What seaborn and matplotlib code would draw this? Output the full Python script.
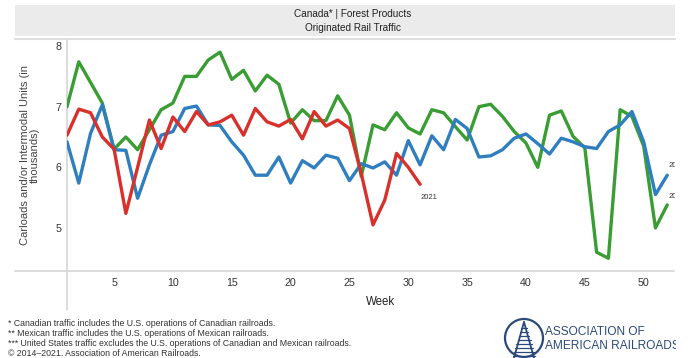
import pandas as pd
import seaborn as sns
import matplotlib.pyplot as plt
from matplotlib.patches import Rectangle, Circle

# ============================================================
# DADOS - carloads semanais (milhares), Canada | Forest Products
# ============================================================

semanas = list(range(1, 53))

carloads_2019 = [7.00, 7.74, 7.40, 7.06, 6.30, 6.50, 6.29, 6.62, 6.95, 7.06,
                 7.50, 7.50, 7.77, 7.90, 7.45, 7.60, 7.26, 7.52, 7.37, 6.73,
                 6.95, 6.77, 6.77, 7.18, 6.86, 5.85, 6.70, 6.62, 6.90, 6.65,
                 6.55, 6.95, 6.90, 6.67, 6.45, 7.00, 7.04, 6.84, 6.59, 6.40,
                 6.00, 6.86, 6.93, 6.51, 6.32, 4.60, 4.50, 6.95, 6.84, 6.35,
                 5.00, 5.38]

carloads_2020 = [6.42, 5.74, 6.56, 7.03, 6.29, 6.28, 5.49, 6.04, 6.53, 6.59,
                 6.97, 7.01, 6.70, 6.69, 6.42, 6.20, 5.87, 5.87, 6.17, 5.74,
                 6.11, 5.99, 6.20, 6.15, 5.78, 6.06, 5.99, 6.09, 5.87, 6.44,
                 6.04, 6.52, 6.29, 6.79, 6.64, 6.17, 6.19, 6.29, 6.48, 6.55,
                 6.39, 6.22, 6.48, 6.42, 6.34, 6.31, 6.59, 6.70, 6.92, 6.42,
                 5.55, 5.87]

semanas_2021 = list(range(1, 32))
carloads_2021 = [6.53, 6.96, 6.90, 6.50, 6.30, 5.24, 6.00, 6.78, 6.31, 6.83,
                 6.59, 6.92, 6.70, 6.75, 6.86, 6.53, 6.97, 6.75, 6.68, 6.79,
                 6.47, 6.92, 6.68, 6.78, 6.64, 5.90, 5.05, 5.46, 6.23, 6.00,
                 5.72]

anos = ['2019', '2020', '2021']
cores = {'2019': '#3a9d34', '2020': '#2f7fc0', '2021': '#d8302b'}

ticks_x = [5, 10, 15, 20, 25, 30, 35, 40, 45, 50]
ticks_y = [5, 6, 7, 8]

notas = [
    "* Canadian traffic includes the U.S. operations of Canadian railroads.",
    "** Mexican traffic includes the U.S. operations of Mexican railroads.",
    "*** United States traffic excludes the U.S. operations of Canadian and Mexican railroads.",
    "\u00a9 2014\u20132021. Association of American Railroads.",
]

df = pd.concat([
    pd.DataFrame({'semana': semanas, 'carloads': carloads_2019, 'ano': '2019'}),
    pd.DataFrame({'semana': semanas, 'carloads': carloads_2020, 'ano': '2020'}),
    pd.DataFrame({'semana': semanas_2021, 'carloads': carloads_2021, 'ano': '2021'}),
], ignore_index=True)

# ============================================================
# FIGURA
# ============================================================

sns.set_style('white')
plt.rcParams['font.family'] = ['Liberation Sans', 'DejaVu Sans']

W, H = 688, 358
fig = plt.figure(figsize=(W / 100, H / 100), dpi=100)

# camada de fundo em pixels (faixa do titulo, eixos, logo)
deco = fig.add_axes([0, 0, 1, 1], zorder=0)
deco.set_xlim(0, W)
deco.set_ylim(H, 0)
deco.axis('off')

deco.add_patch(Rectangle((15, 5), 660, 31, color='#ebebeb', lw=0))
deco.plot([15, 675], [39, 39], color='#dedede', lw=1.5)
deco.plot([67, 67], [40, 310], color='#d6d6d6', lw=1.2)
deco.plot([15, 674], [271, 271], color='#d6d6d6', lw=1.2)

deco.text(353, 14, 'Canada* | Forest Products', ha='center', va='center', fontsize=7.2, color='#222222')
deco.text(353, 28, 'Originated Rail Traffic', ha='center', va='center', fontsize=7.2, color='#222222')

deco.text(381, 302, 'Week', ha='center', va='center', fontsize=8.3, color='#222222')
deco.text(30, 155, 'Carloads and/or Intermodal Units (in\nthousands)', rotation=90,
          ha='center', va='center', multialignment='center', fontsize=8,
          linespacing=1.0, color='#444444')

for i, nota in enumerate(notas):
    deco.text(8, 323 + i * 10, nota, ha='left', va='center', fontsize=6.3, color='#333333')

# logo AAR
azul_logo = '#2b4a7b'
deco.add_patch(Circle((524, 338), 19, fill=False, ec=azul_logo, lw=1.6))
deco.plot([524, 514], [322, 358], color=azul_logo, lw=1.3)
deco.plot([524, 534], [322, 358], color=azul_logo, lw=1.3)
for yy in range(328, 358, 4):
    meia = (yy - 322) * 10 / 36 + 1.5
    deco.plot([524 - meia, 524 + meia], [yy, yy], color=azul_logo, lw=0.9)
deco.text(545, 332, 'ASSOCIATION OF', ha='left', va='center', fontsize=8.6, color=azul_logo)
deco.text(545, 346, 'AMERICAN RAILROADS', ha='left', va='center', fontsize=8.6, color=azul_logo)
deco.add_patch(Rectangle((676, 0), 20, H, color='white', lw=0, zorder=10))

# grafico principal
ax = fig.add_axes([67 / W, 1 - 271 / H, (675 - 67) / W, (271 - 40) / H], zorder=1)
ax.patch.set_alpha(0)
sns.lineplot(data=df, x='semana', y='carloads', hue='ano', hue_order=anos,
             palette=cores, lw=2.4, legend=False, estimator=None, ax=ax)

ax.set_xlim(1, 52.66)
ax.set_ylim(4.29, 8.1)
ax.set_xticks(ticks_x)
ax.set_yticks(ticks_y)
ax.tick_params(axis='x', length=0, pad=5, labelsize=7.7, labelcolor='#333333')
ax.tick_params(axis='y', length=2, width=0.8, color='#cccccc', pad=2, labelsize=7.7, labelcolor='#333333')
for s in ax.spines.values():
    s.set_visible(False)
ax.set_xlabel('')
ax.set_ylabel('')

# rotulos de ano no fim das linhas
ax.annotate('2020', xy=(52, carloads_2020[-1]), xytext=(1, 10), textcoords='offset pixels',
            fontsize=5.5, color='#333333', va='center', ha='left', annotation_clip=False, clip_on=True)
ax.annotate('2019', xy=(52, carloads_2019[-1]), xytext=(1, 8), textcoords='offset pixels',
            fontsize=5.5, color='#333333', va='center', ha='left', annotation_clip=False, clip_on=True)
ax.annotate('2021', xy=(31, carloads_2021[-1]), xytext=(1, -13), textcoords='offset pixels',
            fontsize=5.5, color='#333333', va='center', ha='left')

plt.savefig('out.png', dpi=100)
